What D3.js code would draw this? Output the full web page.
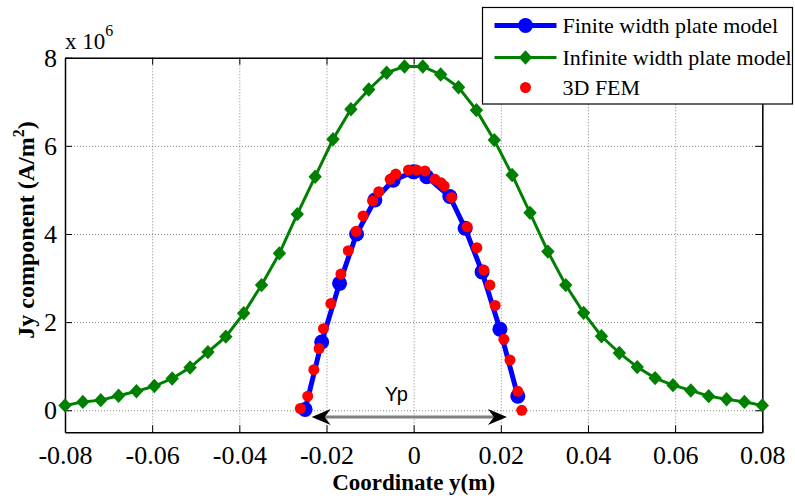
<!DOCTYPE html>
<html>
<head>
<meta charset="utf-8">
<script src="https://cdnjs.cloudflare.com/ajax/libs/d3/7.8.5/d3.min.js"></script>
<style>
body { margin: 0; background: #fff; }
text { font-family: 'Liberation Serif'; }
</style>
</head>
<body>
<div id="chart"></div>
<script>
// values are Jy in units of 1e6 A/m^2, coordinate y in m
var xTicks = [-0.08, -0.06, -0.04, -0.02, 0, 0.02, 0.04, 0.06, 0.08];
var xTickLabels = ["-0.08", "-0.06", "-0.04", "-0.02", "0", "0.02", "0.04", "0.06", "0.08"];
var yTicks = [0, 2, 4, 6, 8];
var yTickLabels = ["0", "2", "4", "6", "8"];

var infiniteX = [-0.0800, -0.0759, -0.0718, -0.0677, -0.0636, -0.0595, -0.0554, -0.0513, -0.0472, -0.0431,
                 -0.0390, -0.0349, -0.0308, -0.0267, -0.0226, -0.0185, -0.0144, -0.0103, -0.0062, -0.0021,
                  0.0021,  0.0062,  0.0103,  0.0144,  0.0185,  0.0226,  0.0267,  0.0308,  0.0349,  0.0390,
                  0.0431,  0.0472,  0.0513,  0.0554,  0.0595,  0.0636,  0.0677,  0.0718,  0.0759,  0.0800];
var infiniteY = [0.11, 0.19, 0.23, 0.33, 0.43, 0.55, 0.72, 0.97, 1.32, 1.67,
                 2.20, 2.84, 3.56, 4.45, 5.30, 6.15, 6.83, 7.28, 7.66, 7.80,
                 7.80, 7.62, 7.33, 6.81, 6.13, 5.34, 4.48, 3.60, 2.84, 2.21,
                 1.68, 1.30, 0.98, 0.73, 0.57, 0.45, 0.32, 0.25, 0.19, 0.11];

var finiteX = [-0.0249, -0.0211, -0.0170, -0.0131, -0.0089, -0.0047, 0.0000,
                0.0030,  0.0083,  0.0118,  0.0157,  0.0198,  0.0239];
var finiteY = [0.02, 1.55, 2.88, 4.00, 4.77, 5.22, 5.41, 5.30, 4.85, 4.13, 3.14, 1.84, 0.32];

var femX = [-0.0260, -0.0243, -0.0229, -0.0217, -0.0207, -0.0190, -0.0167, -0.0150, -0.0132, -0.0116,
            -0.0094, -0.0080, -0.0054, -0.0041, -0.0012, 0.0007, 0.0026, 0.0049, 0.0063, 0.0070,
             0.0087, 0.0123, 0.0145, 0.0161, 0.0175, 0.0187, 0.0207, 0.0221, 0.0239, 0.0248];
var femY = [0.04, 0.32, 0.92, 1.40, 1.85, 2.42, 3.09, 3.62, 4.06, 4.41,
            4.75, 4.96, 5.24, 5.36, 5.45, 5.45, 5.43, 5.24, 5.16, 5.09,
            4.83, 4.16, 3.69, 3.18, 2.84, 2.38, 1.61, 1.14, 0.43, 0.00];

var legendNames = ["Finite width plate model", "Infinite width plate model", "3D FEM"];

// Yp arrow annotation (data units)
var ypFrom = -0.0234, ypTo = 0.0214, ypLevel = -0.15;

var W = 795, H = 499;
var margin = {top: 57.7, right: 32.7, bottom: 66.7, left: 65};
var w = W - margin.left - margin.right;
var h = H - margin.top - margin.bottom;
var serif = "'Liberation Serif'";

var svg = d3.select("#chart").append("svg")
    .attr("width", W)
    .attr("height", H);

var x = d3.scaleLinear().domain([-0.08, 0.08]).range([0, w]);
var y = d3.scaleLinear().domain([-0.5, 8]).range([h, 0]);

var g = svg.append("g")
    .attr("transform", "translate(" + margin.left + "," + margin.top + ")");

//grid
function styleGrid(s) {
    s.select(".domain").remove();
    s.selectAll("line").attr("stroke", "#666").attr("stroke-width", 0.8).attr("stroke-dasharray", "1,2");
}
g.append("g")
    .attr("transform", "translate(0," + h + ")")
    .call(d3.axisBottom(x).tickValues(xTicks).tickSize(-h).tickFormat(""))
    .call(styleGrid);
g.append("g")
    .call(d3.axisLeft(y).tickValues(yTicks).tickSize(-w).tickFormat(""))
    .call(styleGrid);

//axes with inward ticks, box on
var tickLen = 7;
function styleAxis(s) {
    s.attr("font-family", serif).attr("font-size", 26);
    s.select(".domain").attr("stroke", "#000").attr("stroke-width", 1.5);
    s.selectAll(".tick line").attr("stroke", "#000").attr("stroke-width", 1);
    s.selectAll("text").style("font-family", serif).style("font-size", "26px").attr("fill", "#000");
}
g.append("g")
    .attr("transform", "translate(0," + h + ")")
    .call(d3.axisBottom(x).tickValues(xTicks).tickSizeInner(-tickLen).tickSizeOuter(0)
        .tickPadding(13).tickFormat(function (d, i) { return xTickLabels[i]; }))
    .call(styleAxis);
g.append("g")
    .call(d3.axisLeft(y).tickValues(yTicks).tickSizeInner(-tickLen).tickSizeOuter(0)
        .tickPadding(8).tickFormat(function (d, i) { return yTickLabels[i]; }))
    .call(styleAxis);
g.append("g")
    .call(d3.axisTop(x).tickValues(xTicks).tickSizeInner(-tickLen).tickSizeOuter(0).tickFormat(""))
    .call(styleAxis);
g.append("g")
    .attr("transform", "translate(" + w + ",0)")
    .call(d3.axisRight(y).tickValues(yTicks).tickSizeInner(-tickLen).tickSizeOuter(0).tickFormat(""))
    .call(styleAxis);

//exponent label
var expo = svg.append("text")
    .attr("x", margin.left)
    .attr("y", 49)
    .style("font-size", "23px")
    .attr("fill", "#000");
expo.append("tspan").text("x 10");
expo.append("tspan").attr("dy", -13).style("font-size", "16px").text("6");

var infData = infiniteX.map(function (d, i) { return [d, infiniteY[i]]; });
var finData = finiteX.map(function (d, i) { return [d, finiteY[i]]; });
var femData = femX.map(function (d, i) { return [d, femY[i]]; });

var line = d3.line()
    .x(function (d) { return x(d[0]); })
    .y(function (d) { return y(d[1]); });

var diamond = "M0,-7.2L6.7,0L0,7.2L-6.7,0Z";

//infinite width plate model
g.append("path")
    .datum(infData)
    .attr("d", line)
    .attr("fill", "none")
    .attr("stroke", "#008000")
    .attr("stroke-width", 3);
g.selectAll(".inf")
    .data(infData)
    .enter()
    .append("path")
    .attr("class", "inf")
    .attr("d", diamond)
    .attr("transform", function (d) { return "translate(" + x(d[0]) + "," + y(d[1]) + ")"; })
    .attr("fill", "#008000");

//finite width plate model
g.append("path")
    .datum(finData)
    .attr("d", line)
    .attr("fill", "none")
    .attr("stroke", "#0000ff")
    .attr("stroke-width", 5);
g.selectAll(".fin")
    .data(finData)
    .enter()
    .append("circle")
    .attr("class", "fin")
    .attr("cx", function (d) { return x(d[0]); })
    .attr("cy", function (d) { return y(d[1]); })
    .attr("r", 7.5)
    .attr("fill", "#0000ff");

//3D FEM
g.selectAll(".fem")
    .data(femData)
    .enter()
    .append("circle")
    .attr("class", "fem")
    .attr("cx", function (d) { return x(d[0]); })
    .attr("cy", function (d) { return y(d[1]); })
    .attr("r", 5.5)
    .attr("fill", "#ff0000");

//Yp arrow
var ax1 = x(ypFrom), ax2 = x(ypTo), ay = y(ypLevel);
g.append("line")
    .attr("x1", ax1 + 10).attr("x2", ax2 - 10)
    .attr("y1", ay).attr("y2", ay)
    .attr("stroke", "#808080")
    .attr("stroke-width", 3);
g.append("path")
    .attr("d", "M" + ax1 + "," + ay + "l19,-8l-6,8l6,8z")
    .attr("fill", "#000");
g.append("path")
    .attr("d", "M" + ax2 + "," + ay + "l-19,-8l6,8l-6,8z")
    .attr("fill", "#000");
g.append("text")
    .attr("x", (ax1 + ax2) / 2 - 13)
    .attr("y", ay - 16)
    .attr("text-anchor", "middle")
    .style("font-family", "'Liberation Sans'")
    .style("font-size", "20px")
    .attr("fill", "#000")
    .text("Yp");

//axis titles
svg.append("text")
    .attr("x", margin.left + w / 2)
    .attr("y", 490)
    .attr("text-anchor", "middle")
    .style("font-size", "23px")
    .style("font-weight", "bold")
    .attr("fill", "#000")
    .text("Coordinate y(m)");

var ylab = svg.append("text")
    .attr("transform", "translate(34,230) rotate(-90)")
    .attr("text-anchor", "middle")
    .style("font-size", "24px")
    .style("font-weight", "bold")
    .attr("fill", "#000");
ylab.append("tspan").text("Jy component (A/m");
ylab.append("tspan").attr("dy", -10).style("font-size", "16px").text("2");
ylab.append("tspan").attr("dy", 10).text(")");

//legend
var legend = svg.append("g").attr("transform", "translate(482.5,7.5)");
legend.append("rect")
    .attr("width", 310)
    .attr("height", 96.5)
    .attr("fill", "#fff")
    .attr("stroke", "#000")
    .attr("stroke-width", 1.2);

var rowY = [18, 50, 80];
var rows = legend.selectAll(".row")
    .data(legendNames)
    .enter()
    .append("g")
    .attr("class", "row")
    .attr("transform", function (d, i) { return "translate(0," + rowY[i] + ")"; });

rows.append("text")
    .attr("x", 80)
    .attr("y", 7)
    .style("font-size", "22px")
    .attr("fill", "#000")
    .text(function (d) { return d; });

var r0 = d3.select(rows.nodes()[0]);
r0.append("line").attr("x1", 12).attr("x2", 74).attr("stroke", "#0000ff").attr("stroke-width", 5);
r0.append("circle").attr("cx", 43).attr("r", 7.5).attr("fill", "#0000ff");
var r1 = d3.select(rows.nodes()[1]);
r1.append("line").attr("x1", 12).attr("x2", 74).attr("stroke", "#008000").attr("stroke-width", 3);
r1.append("path").attr("d", diamond).attr("transform", "translate(43,0)").attr("fill", "#008000");
var r2 = d3.select(rows.nodes()[2]);
r2.append("circle").attr("cx", 43).attr("r", 5.5).attr("fill", "#ff0000");
</script>
</body>
</html>
